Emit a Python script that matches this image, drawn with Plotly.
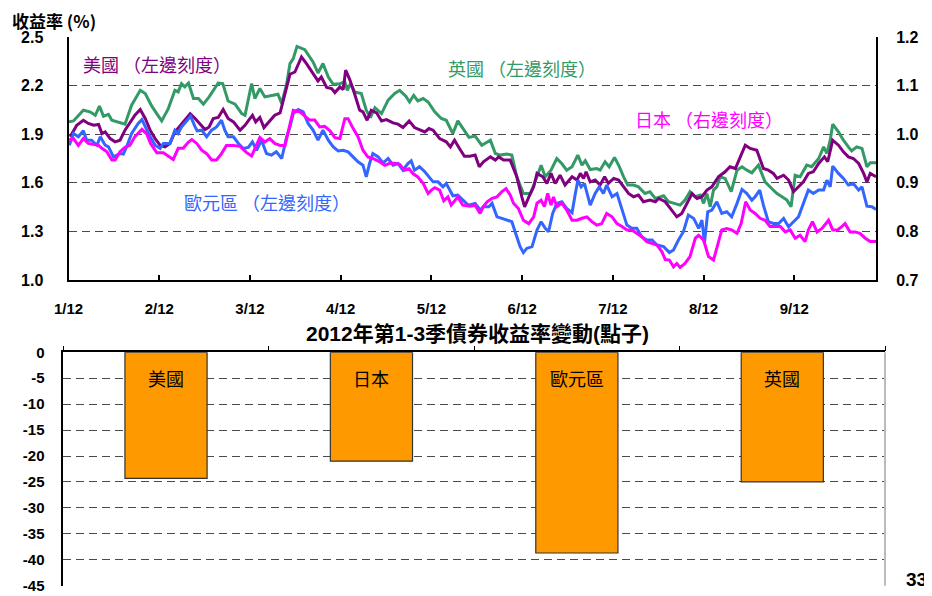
import plotly.graph_objects as go

# ---------------- data ----------------
month_ticks = [0, 22, 44, 66, 88, 110, 132, 154, 176]
month_labels = ["1/12", "2/12", "3/12", "4/12", "5/12", "6/12", "7/12", "8/12", "9/12"]

uk_days = [0, 1.2, 3.6, 5.2, 6.5, 7.5, 8.5, 9.7, 10.5, 13.7, 15.3, 17.4, 18.6, 20.2, 21.4, 22.6, 24.2, 25.8, 26.6, 27.4,
           28.2, 29.1, 30.3, 31.5, 32.7, 34.1, 36.3, 37.4, 38.7, 40.4, 42.0, 42.8, 44.4, 45.2, 46.4, 47.6, 49.6, 50.8, 51.7, 52.9,
           53.7, 54.5, 55.4, 57.3, 59.3, 60.5, 61.7, 63.0, 64.2, 65.8, 67.0, 67.6, 68.4, 69.4, 71.0, 72.2, 73.2, 74.3, 75.9, 77.5,
           79.1, 80.3, 81.8, 82.7, 83.7, 84.7, 86.0, 87.2, 88.8, 90.4, 91.6, 93.2, 94.4, 95.6, 97.1,
           98.6, 100.2, 102.3, 103.5, 104.7, 106.3, 107.5, 108.7, 110.3, 112.0, 113.6, 114.6, 115.6, 117.0, 118.4, 119.6, 120.8, 122.1, 123.5, 124.5,
           125.3, 126.5, 128.1, 128.9, 130.1, 131.1, 132.4, 133.5, 134.6, 135.6, 137.0, 138.2, 139.8, 141.0, 142.3, 144.3, 145.5, 147.1, 148.3, 149.5,
           150.7, 151.9, 153.2, 154.0, 154.8, 155.6, 156.4, 157.2, 158.0, 159.2, 160.7, 162.1, 163.3, 164.5, 165.7, 167.3, 168.9, 170.5, 171.8, 173.0,
           174.2, 175.2, 176.2, 177.4, 179.0, 180.2, 181.9, 183.1, 183.9, 184.7, 185.3, 186.7, 187.9, 189.1, 189.9, 191.1, 192.4, 193.6, 194.4, 195.8]
uk_yield = [1.976, 1.982, 2.048, 2.038, 2.017, 2.073, 2.011, 2.023, 1.986, 1.962, 2.079, 2.171, 2.151, 2.073, 2.027, 1.982, 2.058, 2.171, 2.161, 2.212,
            2.192, 2.216, 2.120, 2.120, 2.085, 2.130, 2.216, 2.212, 2.105, 2.085, 2.027, 2.017, 2.212, 2.120, 2.182, 2.130, 2.140, 2.147, 2.089, 2.212,
            2.336, 2.366, 2.442, 2.422, 2.346, 2.278, 2.336, 2.253, 2.208, 2.212, 2.223, 2.171, 2.212, 2.161, 2.151, 2.048, 2.003, 2.064, 2.027, 2.110,
            2.151, 2.171, 2.134, 2.099, 2.140, 2.105, 2.120, 2.099, 2.038, 1.997, 1.986, 1.904, 1.982, 1.935, 1.880,
            1.888, 1.832, 1.863, 1.781, 1.771, 1.777, 1.771, 1.637, 1.534, 1.534, 1.637, 1.709, 1.637, 1.678, 1.750, 1.719, 1.678, 1.699, 1.771, 1.709,
            1.736, 1.682, 1.688, 1.678, 1.730, 1.699, 1.757, 1.703, 1.637, 1.586, 1.586, 1.575, 1.534, 1.545, 1.503, 1.520, 1.483, 1.469, 1.462, 1.493,
            1.545, 1.514, 1.524, 1.473, 1.534, 1.452, 1.555, 1.575, 1.637, 1.627, 1.545, 1.678, 1.699, 1.678, 1.662, 1.709, 1.606, 1.565, 1.534, 1.514,
            1.493, 1.452, 1.647, 1.637, 1.709, 1.699, 1.750, 1.822, 1.781, 1.863, 1.962, 1.914, 1.863, 1.822, 1.797, 1.822, 1.812, 1.699, 1.723, 1.723]

us_days = [0.4, 2.0, 3.6, 4.8, 6.1, 7.3, 8.1, 8.9, 10.1, 11.3, 12.5, 13.7, 16.1, 17.4, 18.6, 19.8, 21.0, 22.2, 23.4, 24.6,
           25.8, 27.8, 29.5, 30.7, 31.9, 33.1, 34.1, 35.1, 36.3, 37.5, 38.7, 40.0, 41.6, 42.8, 43.8, 44.6, 45.4, 46.4, 47.4, 48.8,
           50.0, 51.3, 51.9, 53.7, 54.9, 56.5, 57.7, 59.3, 60.5, 61.3, 62.6, 63.8, 64.6, 65.8, 66.6, 67.2, 68.2, 69.4, 70.6, 71.4,
           72.4, 73.4, 74.7, 75.9, 77.1, 78.7, 79.9, 81.1, 82.6, 83.9, 85.2, 86.4, 87.4, 88.4, 90.0, 91.6, 92.6, 93.6, 94.8, 96.0, 97.3,
           98.6, 99.6, 100.6, 102.3, 103.5, 104.3, 105.5, 107.1, 108.7, 109.9, 110.6, 112.0, 112.8, 113.6, 115.0, 116.0, 117.0, 118.0, 119.2, 120.4,
           122.1, 123.3, 124.1, 124.9, 125.5, 126.5, 127.7, 128.9, 130.0, 130.9, 132.2, 133.4, 134.6, 135.8, 137.0, 138.2, 139.4, 141.0, 142.3, 143.1,
           144.7, 145.9, 147.5, 148.7, 149.9, 151.2, 152.4, 153.6, 154.8, 156.0, 157.6, 159.2, 160.4, 161.7, 162.9, 164.1, 165.3, 166.9, 168.5, 169.7,
           170.9, 171.8, 173.4, 174.6, 175.8, 177.0, 178.2, 179.4, 180.6, 181.9, 183.3, 184.1, 185.3, 186.7, 187.9, 189.1, 190.3, 191.6, 192.8, 193.6,
           194.4, 195.8]
us_yield = [1.884, 1.955, 1.986, 1.966, 1.955, 1.960, 1.904, 1.914, 1.873, 1.853, 1.863, 1.925, 2.017, 2.052, 1.997, 1.925, 1.873, 1.832, 1.822, 1.843,
            1.914, 1.976, 2.027, 1.997, 1.966, 1.929, 1.945, 1.997, 2.003, 2.052, 1.997, 1.976, 1.925, 1.955, 1.990, 2.017, 1.976, 2.003, 1.941, 1.982,
            2.017, 2.032, 2.093, 2.270, 2.284, 2.377, 2.336, 2.274, 2.229, 2.253, 2.188, 2.182, 2.157, 2.192, 2.175, 2.295, 2.237, 2.147, 2.048, 2.038,
            1.986, 2.048, 2.032, 1.982, 1.990, 1.970, 1.962, 1.941, 1.982, 1.941, 1.929, 1.914, 1.935, 1.925, 1.873, 1.853, 1.822, 1.863, 1.812, 1.764, 1.764,
            1.771, 1.699, 1.730, 1.760, 1.740, 1.760, 1.740, 1.740, 1.637, 1.514, 1.452, 1.534, 1.575, 1.658, 1.637, 1.596, 1.658, 1.596, 1.647, 1.586,
            1.637, 1.617, 1.658, 1.627, 1.668, 1.606, 1.617, 1.586, 1.637, 1.596, 1.627, 1.617, 1.575, 1.534, 1.514, 1.524, 1.483, 1.493, 1.483, 1.503,
            1.483, 1.442, 1.390, 1.411, 1.473, 1.534, 1.503, 1.514, 1.555, 1.575, 1.637, 1.668, 1.699, 1.688, 1.760, 1.832, 1.812, 1.801, 1.688, 1.678,
            1.658, 1.627, 1.647, 1.617, 1.545, 1.575, 1.606, 1.658, 1.668, 1.719, 1.760, 1.730, 1.863, 1.832, 1.791, 1.760, 1.750, 1.719, 1.658, 1.606,
            1.658, 1.637]

eu_days = [0.2, 1.2, 2.4, 3.6, 4.4, 5.6, 6.9, 7.7, 8.9, 9.7, 10.9, 11.7, 12.5, 13.3, 14.1, 15.3, 16.9, 17.8, 18.6, 19.8,
           21.0, 22.2, 23.0, 24.6, 25.8, 26.6, 27.4, 28.7, 29.6, 30.7, 31.2, 32.3, 33.5, 34.7, 35.9, 37.1, 37.9, 38.7, 40.0, 41.2,
           42.4, 43.6, 44.6, 45.6, 46.8, 48.0, 49.2, 50.4, 51.7, 52.9, 53.7, 54.5, 55.7, 56.9, 58.1, 59.3, 60.5, 61.7, 63.0, 64.2,
           65.4, 66.6, 67.8, 69.0, 70.2, 71.4, 72.2, 73.0, 73.8, 75.1, 76.3, 77.5, 78.7, 79.9, 81.1, 82.3, 83.1, 83.9, 85.1, 86.4,
           87.6, 88.4, 89.6, 90.8, 91.6, 92.4, 93.2, 94.4, 95.6, 96.9,
           98.6, 99.8, 100.6, 101.9, 102.7, 103.9, 105.1, 106.3, 107.5, 108.7, 109.5, 110.3, 111.1, 112.4, 113.6, 114.6, 115.6, 116.4, 117.4, 118.4,
           119.6, 120.8, 122.1, 122.9, 123.5, 124.3, 125.1, 126.5, 127.7, 128.7, 129.7, 130.5, 131.8, 133.0, 134.2, 135.4, 136.6, 137.8, 139.0, 140.2,
           141.5, 142.7, 144.3, 145.7, 146.7, 147.9, 149.1, 150.3, 151.6, 152.8, 153.6, 154.2, 155.0, 156.0, 157.2, 158.4, 159.6, 160.8, 162.1, 163.3,
           164.5, 165.7, 166.5, 167.6, 168.5, 169.7, 170.9, 172.2, 173.4, 174.6, 175.8, 177.0, 178.2, 179.4, 180.6, 181.9, 183.1, 183.9, 184.7, 185.3,
           186.7, 187.9, 189.1, 190.3, 191.6, 192.4, 193.6, 194.8, 195.8]
eu_yield = [1.832, 1.904, 1.884, 1.921, 1.863, 1.863, 1.832, 1.884, 1.832, 1.822, 1.760, 1.771, 1.781, 1.777, 1.822, 1.904, 1.966, 1.990, 1.945, 1.884,
            1.832, 1.812, 1.843, 1.843, 1.925, 1.904, 1.945, 1.986, 2.011, 1.945, 1.921, 1.925, 1.884, 1.925, 1.945, 1.986, 1.925, 1.884, 1.884, 1.843,
            1.812, 1.818, 1.853, 1.801, 1.863, 1.781, 1.771, 1.791, 1.750, 1.884, 1.945, 2.027, 2.052, 2.038, 1.966, 1.925, 1.863, 1.925, 1.863, 1.822,
            1.797, 1.801, 1.791, 1.760, 1.730, 1.709, 1.637, 1.719, 1.781, 1.760, 1.723, 1.750, 1.709, 1.719, 1.678, 1.719, 1.736, 1.678, 1.699, 1.668,
            1.627, 1.606, 1.606, 1.575, 1.596, 1.555, 1.520, 1.524, 1.493, 1.462,
            1.473, 1.432, 1.452, 1.452, 1.473, 1.390, 1.380, 1.370, 1.360, 1.267, 1.206, 1.169, 1.195, 1.206, 1.308, 1.360, 1.319, 1.298, 1.411, 1.473,
            1.483, 1.442, 1.415, 1.534, 1.616, 1.575, 1.596, 1.462, 1.534, 1.575, 1.534, 1.586, 1.514, 1.534, 1.432, 1.339, 1.319, 1.319, 1.267, 1.247,
            1.247, 1.216, 1.206, 1.169, 1.185, 1.247, 1.298, 1.401, 1.380, 1.319, 1.370, 1.226, 1.421, 1.432, 1.483, 1.411, 1.421, 1.390, 1.473, 1.559,
            1.534, 1.493, 1.514, 1.555, 1.462, 1.360, 1.349, 1.349, 1.380, 1.329, 1.360, 1.390, 1.473, 1.555, 1.534, 1.555, 1.555, 1.616, 1.575, 1.703,
            1.658, 1.627, 1.586, 1.596, 1.555, 1.575, 1.456, 1.452, 1.436]

jp_days = [0.2, 1.2, 2.4, 3.6, 4.8, 6.1, 7.3, 8.1, 9.3, 10.5, 11.3, 12.5, 13.7, 14.9, 16.1, 17.8, 19.0, 19.9, 21.4, 23.0,
           24.2, 25.4, 26.6, 27.8, 29.1, 29.9, 31.1, 32.3, 33.5, 34.7, 35.9, 37.1, 38.3, 40.0, 41.6, 43.2, 44.4, 45.6, 46.4, 47.6,
           48.8, 50.0, 51.3, 52.5, 53.3, 54.5, 56.1, 57.3, 58.5, 59.7, 60.9, 62.1, 63.4, 64.6, 65.8, 67.0, 67.8, 69.0, 70.2, 71.4,
           72.6, 73.8, 75.5, 76.7, 77.9, 79.1, 80.3, 81.5, 82.6, 83.5, 84.7, 86.0, 87.2, 88.0, 88.8, 90.0, 91.0, 92.0, 92.8, 94.4,
           95.6, 97.4,
           98.6, 99.8, 100.6, 101.5, 102.7, 103.9, 105.1, 106.1, 107.1, 107.9, 109.1, 110.3, 111.6, 112.8, 113.6, 114.6, 115.4, 116.2, 117.0, 117.6,
           118.4, 119.6, 120.8, 122.1, 123.3, 124.5, 125.7, 126.9, 128.1, 129.3, 130.5, 131.8, 133.0, 134.2, 135.4, 136.6, 137.8, 139.0, 140.2, 141.5,
           142.7, 143.9, 144.7, 145.7, 146.7, 147.5, 148.3, 149.5, 150.7, 152.0, 152.8, 154.0, 155.2, 156.4, 157.6, 158.4, 159.6, 160.8, 162.1, 163.1,
           164.2, 165.3, 166.5, 167.7, 168.9, 170.1, 171.4, 172.6, 173.8, 175.0, 176.2, 177.4, 178.6, 179.4, 180.4, 181.5, 182.7, 184.3, 185.3, 186.5,
           187.5, 188.3, 189.5, 190.7, 191.9, 193.2, 194.4, 195.8]
jp_yield = [0.988, 0.991, 0.977, 0.991, 0.981, 0.979, 0.977, 0.971, 0.964, 0.947, 0.947, 0.964, 0.973, 0.977, 0.995, 1.010, 1.000, 0.981, 0.962, 0.962,
            0.955, 0.948, 0.971, 0.971, 0.984, 0.989, 0.981, 0.967, 0.960, 0.947, 0.947, 0.960, 0.977, 0.977, 0.975, 0.962, 0.955, 0.977, 0.993, 0.984,
            0.991, 0.981, 0.977, 0.977, 1.008, 1.049, 1.046, 1.037, 1.029, 1.029, 1.015, 1.016, 1.007, 0.993, 0.991, 1.032, 1.032, 1.012, 0.995, 0.967,
            0.953, 0.950, 0.943, 0.936, 0.940, 0.940, 0.938, 0.926, 0.929, 0.919, 0.912, 0.899, 0.878, 0.885, 0.890, 0.885, 0.863, 0.871, 0.854, 0.871,
            0.854, 0.852,
            0.854, 0.837, 0.851, 0.861, 0.868, 0.871, 0.882, 0.888, 0.875, 0.858, 0.847, 0.823, 0.816, 0.830, 0.858, 0.864, 0.851, 0.878, 0.854, 0.871,
            0.851, 0.858, 0.844, 0.823, 0.823, 0.827, 0.830, 0.820, 0.813, 0.816, 0.837, 0.830, 0.816, 0.810, 0.803, 0.803, 0.796, 0.789, 0.779, 0.775,
            0.772, 0.758, 0.742, 0.741, 0.727, 0.734, 0.726, 0.734, 0.748, 0.786, 0.792, 0.782, 0.748, 0.741, 0.782, 0.803, 0.806, 0.803, 0.796, 0.816,
            0.861, 0.844, 0.837, 0.827, 0.823, 0.810, 0.810, 0.810, 0.799, 0.803, 0.786, 0.792, 0.779, 0.803, 0.820, 0.799, 0.806, 0.823, 0.803, 0.803,
            0.810, 0.816, 0.799, 0.799, 0.796, 0.786, 0.779, 0.779]

countries = ["美國", "日本", "歐元區", "英國"]
change_bp = [-24.3, -21.0, -38.7, -25.0]

left_ticks = [1.0, 1.3, 1.6, 1.9, 2.2, 2.5]
right_ticks = [0.7, 0.8, 0.9, 1.0, 1.1, 1.2]
bar_ticks = [0, -5, -10, -15, -20, -25, -30, -35, -40, -45]

# ---------------- figure ----------------
# the page body has an 8px margin, so the figure is drawn 8px smaller and
# all layout positions (measured in window pixels) are shifted by 8px
OFF = 8
W, H = 932 - OFF, 596 - OFF
def fx(x):
    return (x - OFF) / W
def fy(y):
    return 1 - (y - OFF) / H

LATIN = "Liberation Sans, Arial, Noto Sans CJK TC"
CJK = "Noto Sans CJK TC, Liberation Sans"
GRID = "#4a4a4a"

fig = go.Figure()
fig.add_trace(go.Scatter(x=uk_days, y=uk_yield, mode="lines", line=dict(color="#339966", width=3),
                         xaxis="x", yaxis="y", hoverinfo="skip"))
fig.add_trace(go.Scatter(x=us_days, y=us_yield, mode="lines", line=dict(color="#800080", width=3),
                         xaxis="x", yaxis="y", hoverinfo="skip"))
fig.add_trace(go.Scatter(x=eu_days, y=eu_yield, mode="lines", line=dict(color="#3366FF", width=3),
                         xaxis="x", yaxis="y", hoverinfo="skip"))
fig.add_trace(go.Scatter(x=jp_days, y=jp_yield, mode="lines", line=dict(color="#FF00FF", width=3),
                         xaxis="x", yaxis="y2", hoverinfo="skip"))
fig.add_trace(go.Bar(x=countries, y=change_bp, width=0.4, xaxis="x2", yaxis="y3",
                     marker=dict(color="#FF9900", line=dict(color="#333333", width=1.2)), hoverinfo="skip"))

tickfont = dict(family=LATIN, size=16, color="black", weight="bold")

fig.update_layout(
    template="none",
    width=W, height=H, margin=dict(l=0, r=0, t=0, b=0, pad=0),
    paper_bgcolor="white", plot_bgcolor="white", showlegend=False,
    xaxis=dict(domain=[fx(68.5), fx(876)], anchor="y", range=[0, 195.8], automargin=False,
               tickmode="array", tickvals=month_ticks, ticktext=month_labels,
               ticks="inside", ticklen=5, tickwidth=1.5, tickcolor="black",
               showline=True, linecolor="black", linewidth=2, showgrid=False, zeroline=False,
               tickfont=dict(family=LATIN, size=15, color="black", weight="bold"), ticklabelstandoff=14),
    yaxis=dict(domain=[fy(280), fy(37)], anchor="x", range=[1.0, 2.5], automargin=False,
               tickmode="array", tickvals=left_ticks, ticktext=[f"{v:.1f}" for v in left_ticks],
               showgrid=True, gridcolor=GRID, gridwidth=1.4, griddash="8px,5px",
               showline=True, linecolor="black", linewidth=2, zeroline=False, ticks="",
               tickfont=tickfont, ticklabelstandoff=20),
    yaxis2=dict(overlaying="y", side="right", anchor="x", range=[0.7, 1.2], automargin=False,
                tickmode="array", tickvals=right_ticks, ticktext=[f"{v:.1f}" for v in right_ticks],
                showgrid=False, showline=True, linecolor="black", linewidth=2, zeroline=False, ticks="",
                tickfont=tickfont, ticklabelstandoff=15),
    xaxis2=dict(domain=[fx(63.3), fx(885)], anchor="y3", side="top", range=[-0.5, 3.5], automargin=False,
                showticklabels=False, ticks="outside", tickson="boundaries", ticklen=5, tickwidth=1,
                tickcolor="black", showline=True, linecolor="black", linewidth=1.5, showgrid=False),
    yaxis3=dict(domain=[fy(585.7), fy(352.3)], anchor="x2", range=[-45, 0], automargin=False,
                tickmode="array", tickvals=bar_ticks, ticktext=[str(v) for v in bar_ticks],
                showgrid=True, gridcolor=GRID, gridwidth=1.4, griddash="8px,5px",
                showline=True, linecolor="black", linewidth=1.5, zeroline=False, ticks="",
                tickfont=dict(family=LATIN, size=15, color="black", weight="bold"), ticklabelstandoff=14),
)

annotations = [
    dict(text="收益率 (%)", x=fx(10), y=fy(20), xanchor="left", yanchor="middle",
         font=dict(family=CJK, size=17, color="black", weight="bold")),
    dict(text="美國 （左邊刻度）", x=fx(81), y=fy(64), xanchor="left", yanchor="middle",
         font=dict(family=CJK, size=18, color="#800080")),
    dict(text="英國 （左邊刻度）", x=fx(446), y=fy(68), xanchor="left", yanchor="middle",
         font=dict(family=CJK, size=18, color="#339966")),
    dict(text="日本 （右邊刻度）", x=fx(633), y=fy(119), xanchor="left", yanchor="middle",
         font=dict(family=CJK, size=18, color="#FF00FF")),
    dict(text="歐元區 （左邊刻度）", x=fx(182), y=fy(202), xanchor="left", yanchor="middle",
         font=dict(family=CJK, size=18, color="#3366FF")),
    dict(text="2012年第1-3季債券收益率變動(點子)", x=fx(477), y=fy(334), xanchor="center", yanchor="middle",
         font=dict(family=LATIN, size=21, color="black", weight="bold")),
    dict(text="33", x=fx(916), y=fy(579), xanchor="center", yanchor="middle",
         font=dict(family=LATIN, size=19, color="black", weight="bold")),
]
for c in countries:
    annotations.append(dict(text=c, x=c, y=-4.9, xref="x2", yref="y3", xanchor="center", yanchor="middle",
                            showarrow=False, font=dict(family=CJK, size=18, color="black")))
for a in annotations:
    a.setdefault("xref", "paper")
    a.setdefault("yref", "paper")
    a["showarrow"] = False
fig.update_layout(annotations=annotations)

fig.update_layout(shapes=[
    dict(type="line", xref="paper", yref="paper", x0=fx(885), x1=fx(885), y0=fy(585.7), y1=fy(352.3),
         line=dict(color="#BBBBBB", width=2)),
])

fig.write_html("out.html")
